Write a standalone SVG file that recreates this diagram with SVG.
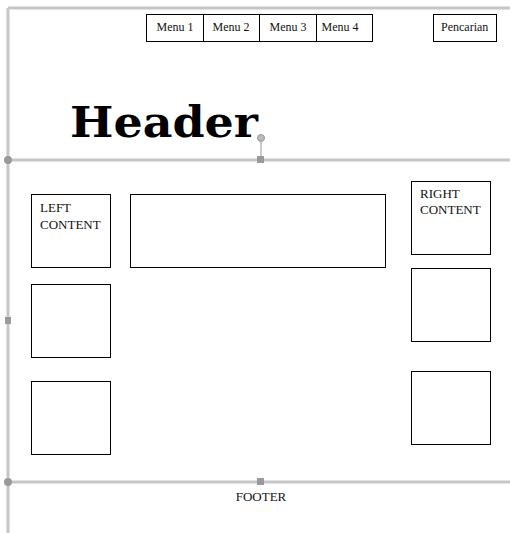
<svg xmlns="http://www.w3.org/2000/svg" width="510" height="533" viewBox="0 0 510 533">
<style>
.guide{stroke:#c6c6c6;stroke-width:3;fill:none}
.box{fill:#fff;stroke:#000;stroke-width:1}
.t{font-family:"Liberation Serif",serif;font-size:12px;fill:#111}
.lbl{font-family:"Liberation Serif",serif;font-size:13px;fill:#111}
.h{fill:#9a9a9a}
</style>
<rect width="510" height="533" fill="#fff"/>
<g id="connectors">
<line class="guide" x1="8" y1="8" x2="510" y2="8"/>
<line class="guide" x1="8" y1="8" x2="8" y2="533"/>
<line class="guide" x1="8" y1="160" x2="510" y2="160"/>
<line class="guide" x1="8" y1="482" x2="510" y2="482"/>
<line x1="261" y1="138" x2="261" y2="160" stroke="#9a9a9a" stroke-width="1"/>
<circle class="h" cx="8" cy="160" r="4"/>
<rect class="h" x="257" y="156" width="7" height="7"/>
<circle cx="261" cy="138" r="3.5" fill="#bbb" stroke="#999"/>
<circle class="h" cx="8" cy="482" r="4"/>
<rect class="h" x="257" y="478" width="7" height="7"/>
<rect class="h" x="5" y="317" width="6" height="7"/>
</g>
<g id="menu">
<rect class="box" x="146.5" y="14.5" width="226" height="27"/>
<line x1="203.5" y1="14.5" x2="203.5" y2="41.5" stroke="#000"/>
<line x1="259.5" y1="14.5" x2="259.5" y2="41.5" stroke="#000"/>
<line x1="316.5" y1="14.5" x2="316.5" y2="41.5" stroke="#000"/>
<text class="t" x="175" y="31" text-anchor="middle">Menu 1</text>
<text class="t" x="231" y="31" text-anchor="middle">Menu 2</text>
<text class="t" x="288" y="31" text-anchor="middle">Menu 3</text>
<text class="t" x="340" y="31" text-anchor="middle">Menu 4</text>
</g>
<g id="search">
<rect class="box" x="433.5" y="14.5" width="63" height="27"/>
<text class="t" x="441" y="31">Pencarian</text>
</g>
<g id="header">
<text x="70" y="137" font-family="'DejaVu Serif',serif" font-weight="bold" font-size="42" textLength="188" lengthAdjust="spacingAndGlyphs" fill="#000">Header</text>
</g>
<g id="left1">
<rect class="box" x="31.5" y="194.5" width="79" height="73"/>
<text class="lbl" x="40" y="212">LEFT</text>
<text class="lbl" x="40" y="229">CONTENT</text>
</g>
<g id="left2"><rect class="box" x="31.5" y="284.5" width="79" height="73"/></g>
<g id="left3"><rect class="box" x="31.5" y="381.5" width="79" height="73"/></g>
<g id="main"><rect class="box" x="130.5" y="194.5" width="255" height="73"/></g>
<g id="right1">
<rect class="box" x="411.5" y="181.5" width="79" height="73"/>
<text class="lbl" x="420" y="198">RIGHT</text>
<text class="lbl" x="420" y="214">CONTENT</text>
</g>
<g id="right2"><rect class="box" x="411.5" y="268.5" width="79" height="73"/></g>
<g id="right3"><rect class="box" x="411.5" y="371.5" width="79" height="73"/></g>
<g id="footer">
<text class="lbl" x="261" y="501" text-anchor="middle" font-size="14">FOOTER</text>
</g>
</svg>
